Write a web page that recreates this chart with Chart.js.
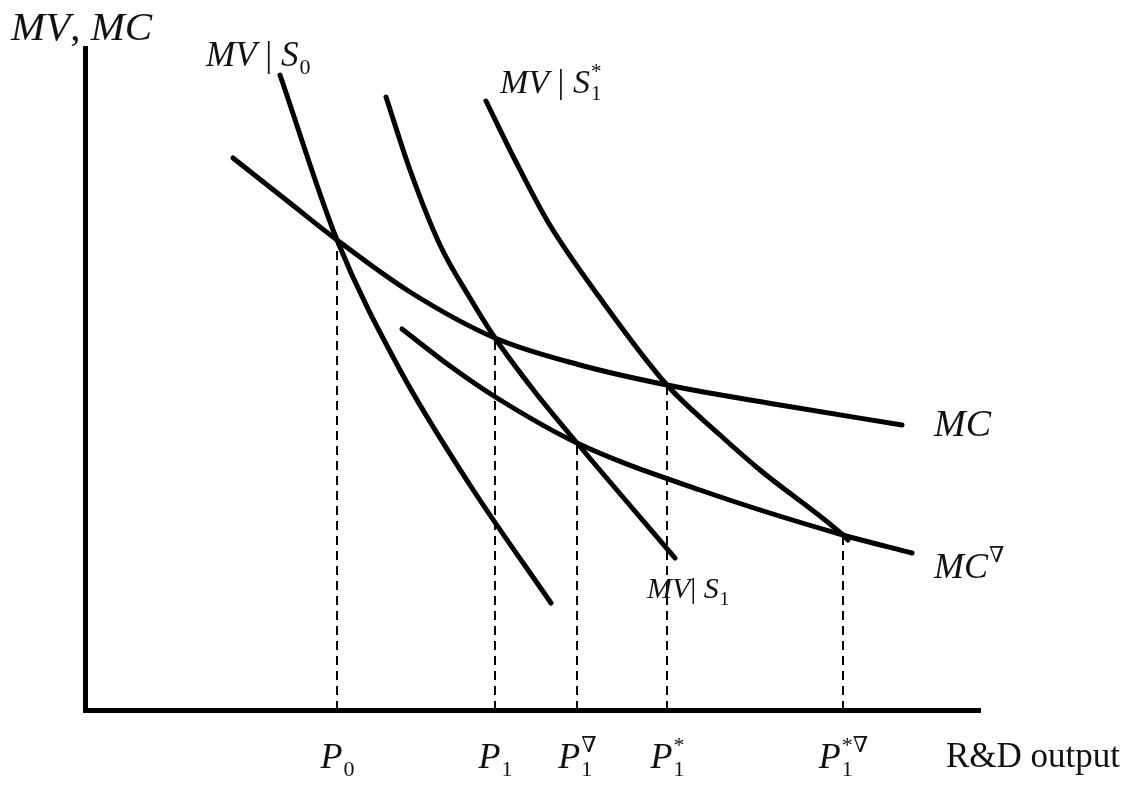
<!DOCTYPE html>
<html>
<head>
<meta charset="utf-8">
<script src="https://cdn.jsdelivr.net/npm/chart.js@4.4.0/dist/chart.umd.min.js"></script>
<style>
  html, body { margin:0; padding:0; background:#fff; }
  #wrap { width:1123px; height:786px; }
</style>
</head>
<body>
<div id="wrap"><canvas id="chart" width="1123" height="786"></canvas></div>
<script>
// curve points (x = R&D output, y = MV/MC)
const mvS0 = [[195,635],[252,470],[315,340],[385,225],[466,107]];
const mvS1 = [[301,613],[325,540],[355,465],[385,412],[410,372],[450,318],[492,267],[590,152]];
const mvS1star = [[401,609],[430,550],[463,488],[515,412],[582,325],[635,275],[675,240],[758,175],[763,170]];
const mc = [[148,552],[205,507],[252,470],[325,418],[410,372],[495,345],[582,325],[695,305],[817,285]];
const mcNabla = [[317,381],[365,344],[412,312],[492,267],[615,220],[758,175],[827,157]];

// equilibrium points -> dashed drop lines + axis labels
const eqX = [252, 410, 492, 582, 758];
const eqY = [470, 372, 267, 325, 175];
const eqLabels = [
  [["P","i"],["0","sub"]],
  [["P","i"],["1","sub"]],
  [["P","i"],["1","∇","subsup"]],
  [["P","i"],["1","*","subsup"]],
  [["P","i"],["1","*∇","subsup"]]
];

const toPts = arr => arr.map(p => ({x:p[0], y:p[1]}));

function curve(pts){
  return { data: toPts(pts), showLine:true, borderColor:"#000", borderWidth:5,
           pointRadius:0, cubicInterpolationMode:"monotone", borderCapStyle:"round",
           borderJoinStyle:"round", clip:false };
}

const datasets = [curve(mvS0), curve(mvS1), curve(mvS1star), curve(mc), curve(mcNabla)];
eqX.forEach((x,i)=>{
  datasets.push({ data:[{x:x,y:0},{x:x,y:eqY[i]}], showLine:true, borderColor:"#000",
                  borderWidth:2, borderDash:[9,6], pointRadius:0, clip:false });
});

const SERIF = '"Liberation Serif", "DejaVu Serif", serif';

// draw text made of parts: [text, "i"|"n"|"sub"|"sup"] or [sub, sup, "subsup"]
function rich(ctx, x, y, parts, size, align){
  const font = (sz, it) => (it ? "italic " : "") + sz + "px " + SERIF;
  const small = Math.round(size*0.62);
  const widthOf = p => {
    const t = p[p.length-1];
    if(t === "subsup"){
      ctx.font = font(small,false); const a = ctx.measureText(p[0]).width;
      const b = ctx.measureText(p[1]).width; return Math.max(a,b);
    }
    ctx.font = (t==="sub"||t==="sup") ? font(small,false) : font(size, t==="i");
    return ctx.measureText(p[0]).width;
  };
  let total = 0; parts.forEach(p => total += widthOf(p));
  let cx = align === "center" ? x - total/2 : x;
  ctx.fillStyle = "#111"; ctx.textBaseline = "alphabetic"; ctx.textAlign = "left";
  parts.forEach(p => {
    const t = p[p.length-1];
    const w = widthOf(p);
    if(t === "subsup"){
      ctx.font = font(small,false);
      ctx.fillText(p[0], cx+1, y + size*0.22);
      ctx.fillText(p[1], cx+1, y - size*0.45);
    } else if(t === "sub"){
      ctx.font = font(small,false); ctx.fillText(p[0], cx+1, y + size*0.22);
    } else if(t === "sup"){
      ctx.font = font(small,false); ctx.fillText(p[0], cx+1, y - size*0.45);
    } else {
      ctx.font = font(size, t==="i"); ctx.fillText(p[0], cx, y);
    }
    cx += w + (t==="i"||t==="n" ? 0 : 2);
  });
}

const labelPlugin = {
  id:"labels",
  afterDraw(chart){
    const ctx = chart.ctx, xs = chart.scales.x;
    ctx.save();
    rich(ctx, 11, 40, [["MV","i"],[", ","n"],["MC","i"]], 41);
    rich(ctx, 206, 66, [["MV","i"],[" | ","n"],["S","i"],["0","sub"]], 35);
    rich(ctx, 500, 93, [["MV","i"],[" | ","n"],["S","i"],["1","*","subsup"]], 34);
    rich(ctx, 934, 436, [["MC","i"]], 38);
    rich(ctx, 934, 578, [["MC","i"],["∇","sup"]], 36);
    rich(ctx, 647, 598, [["MV","i"],["| ","n"],["S","i"],["1","sub"]], 30);
    eqX.forEach((v,i) => rich(ctx, xs.getPixelForValue(v), 768, eqLabels[i], 36, "center"));
    rich(ctx, 946, 767, [["R&D output","n"]], 35);
    ctx.restore();
  }
};

new Chart(document.getElementById("chart"), {
  type:"scatter",
  data:{ datasets },
  options:{
    responsive:false, animation:false,
    layout:{ padding:{ left:85, top:48, right:143, bottom:76 } },
    plugins:{ legend:{display:false}, tooltip:{enabled:false} },
    scales:{
      x:{ type:"linear", min:0, max:895,
          grid:{display:false, drawTicks:false}, ticks:{display:false},
          border:{display:true, width:5, color:"#000"} },
      y:{ type:"linear", min:0, max:662,
          grid:{display:false, drawTicks:false}, ticks:{display:false},
          border:{display:true, width:5, color:"#000"} }
    }
  },
  plugins:[labelPlugin]
});
</script>
</body>
</html>
